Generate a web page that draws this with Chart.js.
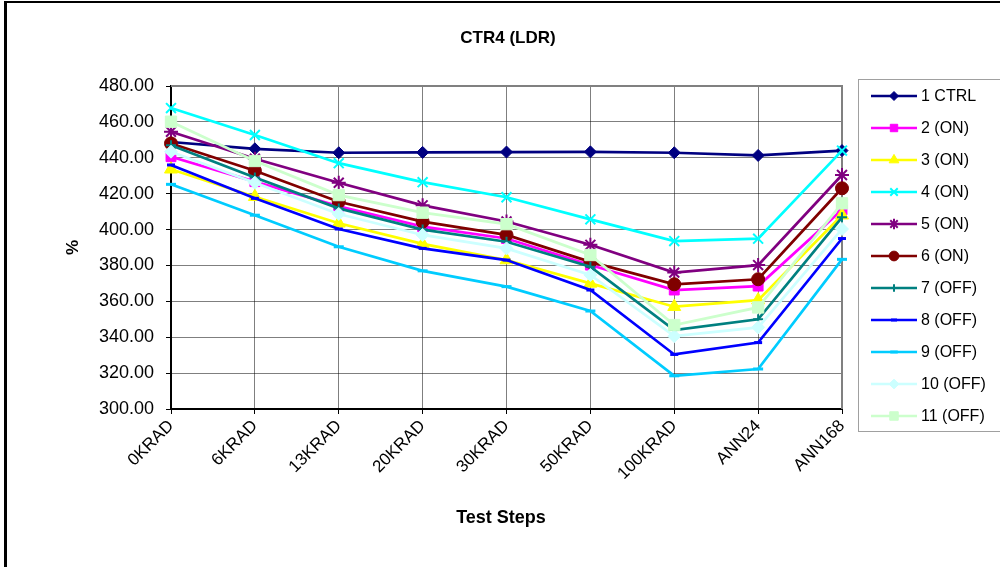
<!DOCTYPE html>
<html>
<head>
<meta charset="utf-8">
<script src="https://cdn.jsdelivr.net/npm/chart.js@4.4.1/dist/chart.umd.min.js"></script>
<style>
html,body{margin:0;padding:0;background:#fff;}
canvas{display:block;}
</style>
</head>
<body>
<canvas id="c" width="1000" height="567"></canvas>
<script>
const categories = ["0KRAD","6KRAD","13KRAD","20KRAD","30KRAD","50KRAD","100KRAD","ANN24","ANN168"];
const seriesNames = ["1 CTRL","2 (ON)","3 (ON)","4 (ON)","5 (ON)","6 (ON)","7 (OFF)","8 (OFF)","9 (OFF)","10 (OFF)","11 (OFF)"];
const s1  = [448.8, 445.0, 442.8, 443.0, 443.2, 443.3, 442.8, 441.3, 444.0];
const s2  = [440.6, 426.7, 413.0, 401.6, 395.0, 380.2, 366.3, 368.5, 411.0];
const s3  = [433.6, 418.3, 403.5, 392.0, 383.0, 370.0, 357.0, 360.7, 408.0];
const s4  = [467.7, 452.7, 437.0, 426.4, 418.0, 405.7, 393.6, 394.9, 444.0];
const s5  = [454.5, 439.5, 426.1, 413.5, 404.5, 391.5, 376.0, 380.2, 430.4];
const s6  = [448.0, 432.8, 415.5, 404.4, 397.0, 382.0, 369.5, 372.3, 423.0];
const s7  = [447.0, 429.0, 411.8, 400.0, 393.2, 379.3, 344.0, 350.0, 406.8];
const s8  = [436.0, 417.4, 400.3, 389.5, 383.0, 366.3, 330.4, 337.0, 395.0];
const s9  = [425.2, 408.0, 390.4, 377.0, 368.2, 354.6, 318.5, 322.3, 383.4];
const s10 = [443.4, 426.1, 408.7, 397.0, 389.5, 374.7, 340.6, 345.5, 400.3];
const s11 = [460.1, 438.2, 419.2, 409.4, 403.0, 385.8, 346.8, 356.6, 414.6];
const yTicks = [300,320,340,360,380,400,420,440,460,480];

const allSeries = [s1,s2,s3,s4,s5,s6,s7,s8,s9,s10,s11];
const colors = ["#000080","#FF00FF","#FFFF00","#00FFFF","#800080","#800000","#008080","#0000FF","#00CCFF","#CCFFFF","#CCFFCC"];
const styles = ["rectRot","rect","triangle","crossRot","star","circle","cross","line","line","rectRot","rect"];
const radii  = [6,7,7.5,7,7,6.5,5,4,5,6.5,8];
const pbw    = [1,1,1,2,2,1,2,3,3,1,1];

const FONT = "'Liberation Sans', Arial, sans-serif";

const datasets = allSeries.map((d,i)=>({
  label: seriesNames[i],
  data: d,
  borderColor: colors[i],
  backgroundColor: colors[i],
  pointBackgroundColor: colors[i],
  pointBorderColor: colors[i],
  pointStyle: styles[i],
  pointRadius: radii[i],
  pointHoverRadius: radii[i],
  pointBorderWidth: pbw[i],
  borderWidth: 2.7,
  tension: 0,
  fill: false,
  order: allSeries.length - i
}));

const framePlugin = {
  id: 'frame',
  beforeDraw(chart){
    const ctx = chart.ctx;
    ctx.save();
    ctx.fillStyle = '#fff';
    ctx.fillRect(0,0,chart.width,chart.height);
    ctx.restore();
  },
  beforeDatasetsDraw(chart){
    const {ctx, chartArea:a} = chart;
    ctx.save();
    ctx.strokeStyle = '#808080';
    ctx.lineWidth = 2;
    ctx.beginPath();
    ctx.moveTo(a.left, a.top);
    ctx.lineTo(a.right, a.top);
    ctx.lineTo(a.right, a.bottom);
    ctx.stroke();
    ctx.restore();
  },
  afterDraw(chart){
    const ctx = chart.ctx;
    ctx.save();
    // outer frame
    ctx.strokeStyle = '#000';
    ctx.lineWidth = 2;
    ctx.beginPath();
    ctx.moveTo(4, 2); ctx.lineTo(1000, 2);
    ctx.stroke();
    ctx.lineWidth = 3;
    ctx.beginPath();
    ctx.moveTo(5.5, 1); ctx.lineTo(5.5, 567);
    ctx.stroke();
    // title
    ctx.fillStyle = '#000';
    ctx.font = "bold 17px " + FONT;
    ctx.textAlign = 'center';
    ctx.textBaseline = 'middle';
    ctx.fillText("CTR4 (LDR)", 508, 38);
    // x axis title
    ctx.font = "bold 18px " + FONT;
    ctx.fillText("Test Steps", 501, 518);
    // legend
    ctx.strokeStyle = '#A0A0A0';
    ctx.lineWidth = 1;
    ctx.strokeRect(858.5, 79.5, 150, 352);
    const helpers = Chart.helpers;
    ctx.font = "16px " + FONT;
    ctx.textAlign = 'left';
    for (let i=0;i<seriesNames.length;i++){
      const y = 96 + i*32;
      ctx.strokeStyle = colors[i];
      ctx.lineWidth = 2.5;
      ctx.beginPath(); ctx.moveTo(871,y); ctx.lineTo(917,y); ctx.stroke();
      ctx.fillStyle = colors[i];
      ctx.strokeStyle = colors[i];
      ctx.lineWidth = pbw[i];
      if (helpers && helpers.drawPoint) {
        helpers.drawPoint(ctx, {pointStyle: styles[i], radius: radii[i]*0.75, rotation: 0, borderWidth: pbw[i]}, 894, y);
      }
      ctx.fillStyle = '#000';
      ctx.fillText(seriesNames[i], 921, y+1);
    }
    ctx.restore();
  }
};

new Chart(document.getElementById('c'), {
  type: 'line',
  data: { labels: categories, datasets },
  plugins: [framePlugin],
  options: {
    responsive: false,
    animation: false,
    events: [],
    layout: { padding: { left: 8, top: 86, right: 158, bottom: 8 } },
    plugins: { legend: { display: false }, title: { display: false }, tooltip: { enabled: false } },
    scales: {
      x: {
        type: 'category',
        offset: false,
        afterFit(scale){ scale.height = 150; },
        grid: { display: true, color: 'rgba(0,0,0,0.5)', lineWidth: 1, borderDash: [2,2], drawTicks: true, tickLength: 5, tickColor: '#000', tickBorderDash: [], tickWidth: 1 },
        border: { display: true, color: '#000', width: 2 },
        ticks: { color: '#000', font: { family: FONT, size: 17 }, minRotation: 45, maxRotation: 45, autoSkip: false, padding: 2 },
        title: { display: false }
      },
      y: {
        min: 300, max: 480,
        afterFit(scale){ scale.width = 163; },
        afterBuildTicks(scale){ scale.ticks = yTicks.map(v=>({value:v})); },
        grid: { display: true, color: 'rgba(0,0,0,0.5)', lineWidth: 1, borderDash: [2,2], drawTicks: true, tickLength: 5, tickColor: '#000', tickBorderDash: [], tickWidth: 1 },
        border: { display: true, color: '#000', width: 2 },
        ticks: { color: '#000', font: { family: FONT, size: 18 }, padding: 12, callback: v => Number(v).toFixed(2) },
        title: { display: true, text: '%', color: '#000', font: { family: FONT, size: 17, weight: 'bold' }, padding: { top: 55, bottom: 0 } }
      }
    }
  }
});
</script>
</body>
</html>
